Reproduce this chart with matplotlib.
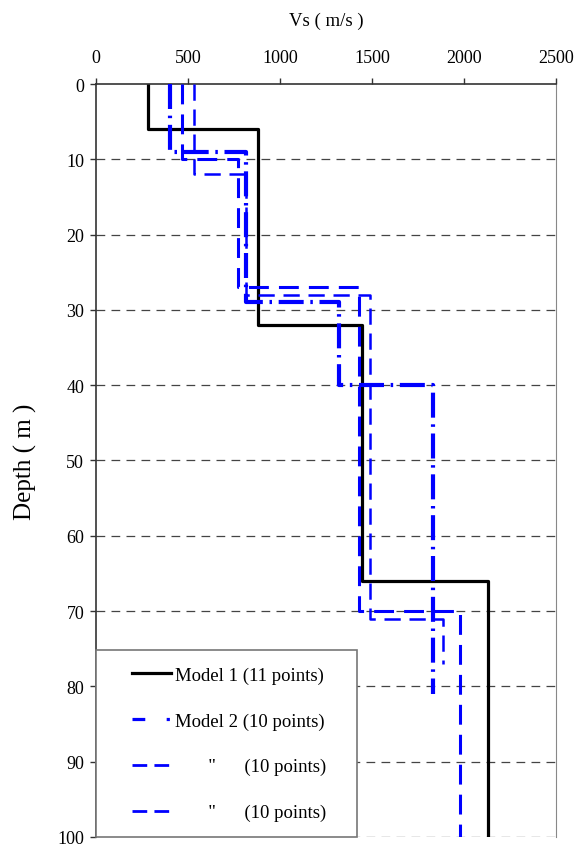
import matplotlib
matplotlib.use("Agg")
import matplotlib.pyplot as plt
from matplotlib.lines import Line2D
from matplotlib.patches import Rectangle
import numpy as np

plt.rcParams['font.family'] = ['Liberation Serif', 'DejaVu Serif']

# Layer velocities (m/s) and layer boundary depths (m)
m1_vs = [280, 880, 1445, 2130]
m1_depth = [0, 6, 32, 66, 100]

m2_vs = [400, 815, 1322, 1832]
m2_depth = [0, 9, 29, 40, 81]

m3_vs = [467, 770, 1431, 1978]
m3_depth = [0, 10, 27, 70, 100]

m4_vs = [533, 815, 1489, 1888]
m4_depth = [0, 12, 28, 71, 77]

labels = ['Model 1 (11 points)', 'Model 2 (10 points)',
          '       "      (10 points)', '       "      (10 points)']

x_ticks = [0, 500, 1000, 1500, 2000, 2500]
y_ticks = [0, 10, 20, 30, 40, 50, 60, 70, 80, 90, 100]


def profile(vs, depth):
    x = np.repeat(vs, 2)
    y = np.empty(2 * len(vs))
    y[0::2] = depth[:-1]
    y[1::2] = depth[1:]
    return x, y


fig = plt.figure(figsize=(5.8, 8.45), dpi=100)
ax = fig.add_axes([0.1655, 0.0083, 0.7931, 0.8911])

for d in y_ticks[1:]:
    ax.axhline(d, color='#444444', lw=0.9, dashes=(7, 5), zorder=1)

BLUE = '#0000ff'
x, y = profile(m1_vs, m1_depth)
ax.plot(x, y, color='black', lw=2.3, zorder=2)
x, y = profile(m2_vs, m2_depth)
ax.plot(x, y, color=BLUE, lw=3.0, dashes=(6, 1.6, 0.6, 1.6), zorder=3)
x, y = profile(m3_vs, m3_depth)
ax.plot(x, y, color=BLUE, lw=2.2, dashes=(6.5, 3.3), zorder=3)
x, y = profile(m4_vs, m4_depth)
ax.plot(x, y, color=BLUE, lw=1.8, dashes=(6.5, 3.5), zorder=3)

ax.set_xlim(0, 2500)
ax.set_ylim(100, 0)
ax.xaxis.tick_top()
ax.set_xticks(x_ticks)
ax.set_yticks(y_ticks)
ax.tick_params(axis='both', labelsize=13, length=4.5, width=1, direction='out', color='#333333')
ax.tick_params(axis='x', pad=8.5)
ax.tick_params(axis='y', pad=4)
ax.set_xlabel('Vs ( m/s )', fontsize=13.5, va='center')
ax.xaxis.set_label_coords(0.5, 1.085)
ax.set_ylabel('Depth ( m )', fontsize=18, va='center')
ax.yaxis.set_label_coords(-0.153, 0.5)

ax.spines['bottom'].set_visible(False)
ax.spines['right'].set_color('#888888')
ax.spines['top'].set_color('#333333')
ax.spines['left'].set_color('#333333')
ax.spines['top'].set_linewidth(1.2)
ax.spines['left'].set_linewidth(1.2)

# legend box
ax.add_patch(Rectangle((0, 0), 0.567, 0.248, transform=ax.transAxes,
                       facecolor='white', edgecolor='#777777', lw=1.2,
                       zorder=4, clip_on=False))

handles = [
    Line2D([], [], color='black', lw=2.3),
    Line2D([], [], color=BLUE, lw=2.3, dashes=(4, 6.7, 1, 3)),
    Line2D([], [], color=BLUE, lw=2.0, dashes=(5.3, 2.6)),
    Line2D([], [], color=BLUE, lw=2.0, dashes=(5.3, 2.6)),
]
leg = ax.legend(handles, labels, loc='upper left', bbox_to_anchor=(0.078, 0.2265),
                borderaxespad=0, borderpad=0, frameon=False, fontsize=13.5,
                labelspacing=1.52, handlelength=2.08, handletextpad=0.21)
leg.set_zorder(5)

fig.savefig('out.png', dpi=100)
